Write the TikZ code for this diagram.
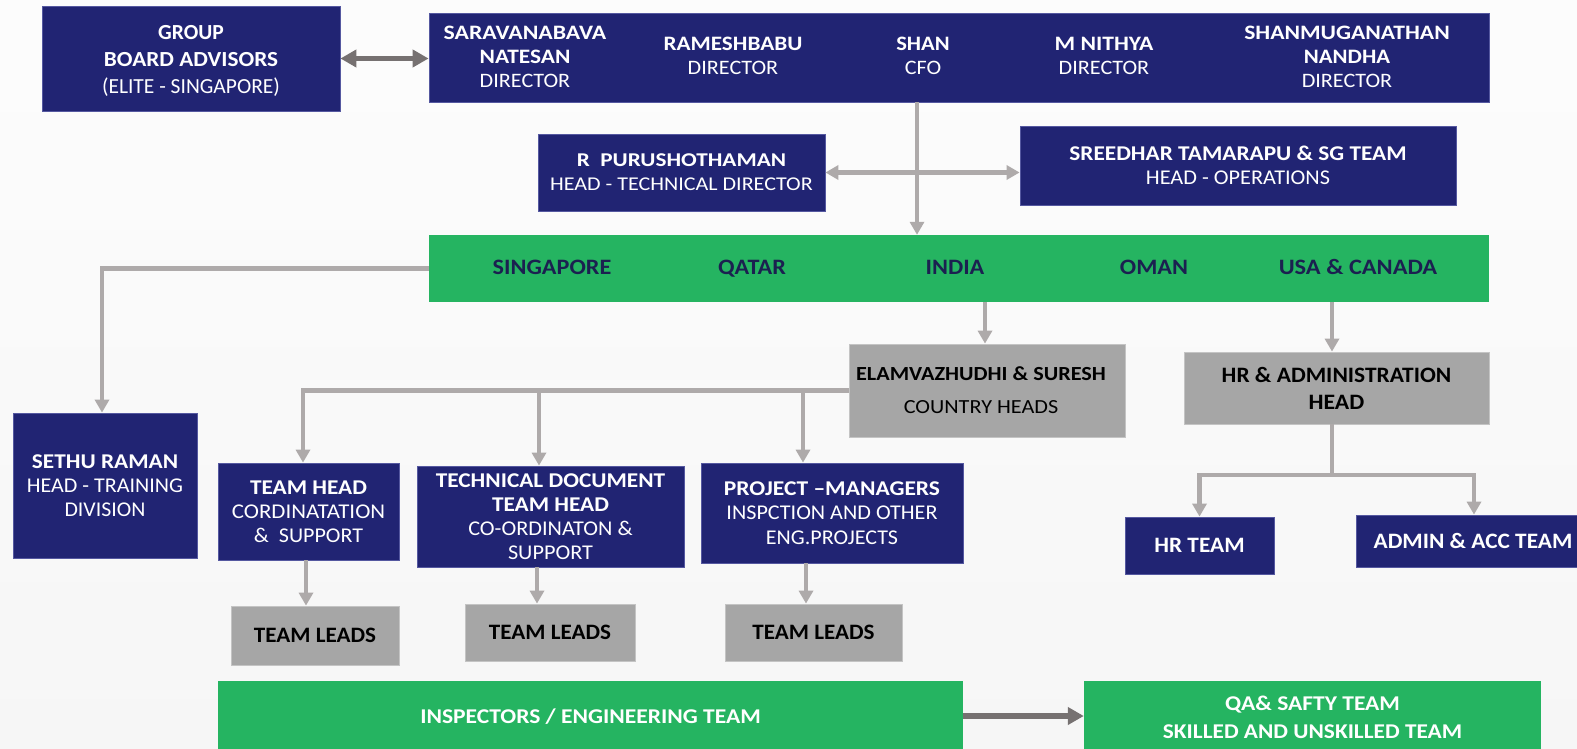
\documentclass[tikz,border=0pt]{standalone}
\usepackage{fontspec}
\usepackage{graphicx}
\setmainfont{Carlito}
\usetikzlibrary{arrows.meta,calc}
\definecolor{navy}{HTML}{212473}
\definecolor{navyedge}{HTML}{5558A0}
\definecolor{grn}{HTML}{25B461}
\definecolor{gbox}{HTML}{A6A6A6}
\definecolor{gedge}{HTML}{C4C4C4}
\definecolor{conn}{HTML}{AEAAAA}
\definecolor{dconn}{HTML}{767171}
\definecolor{ctytext}{HTML}{1B2050}
\newcommand{\fsz}[2]{\fontsize{#1pt}{#2pt}\selectfont}
\newcommand{\hs}[2]{\scalebox{#1}[1]{#2}}
\newcommand{\hb}[2]{\scalebox{#1}[1]{\bfseries #2}}
\tikzset{
  nbox/.style={draw=navyedge, line width=0.8pt, fill=navy, text=white, align=center, inner sep=0pt},
  gybox/.style={draw=gedge, line width=0.8pt, fill=gbox, text=black, align=center, inner sep=0pt},
  grbox/.style={fill=grn, text=white, align=center, inner sep=0pt},
  lbl/.style={align=center, inner sep=0pt, text=white},
  ctylbl/.style={inner sep=0pt, anchor=base, text=ctytext, font=\fsz{22}{26}\bfseries},
  cline/.style={draw=conn, line width=4.5pt},
  carrow/.style={cline, -{Triangle[width=14pt,length=13pt]}},
  cdarrow/.style={cline, {Triangle[width=14pt,length=13pt]}-{Triangle[width=14pt,length=13pt]}},
  dline/.style={draw=dconn, line width=5.5pt},
  darrow/.style={dline, -{Triangle[width=17pt,length=16pt]}},
  ddarrow/.style={dline, {Triangle[width=17pt,length=16pt]}-{Triangle[width=17pt,length=16pt]}},
}
\begin{document}
\begin{tikzpicture}[x=1pt,y=-1pt]
\useasboundingbox (0,0) rectangle (1577,749);
\shade[top color=white!98!gray, bottom color=white!93!gray] (0,0) rectangle (1577,749);

% top row
\node[nbox, minimum width=298pt, minimum height=105pt] (grp) at (191,58.5) {};
\node[lbl, font=\fsz{21.5}{27}] (grpt) at (191,60.5)
  {\hb{1.0}{GROUP}\\\hb{1.08}{BOARD ADVISORS}\\\hs{1.0}{(ELITE - SINGAPORE)}};
\node[nbox, minimum width=1060pt, minimum height=89pt] (dir) at (959,57.5) {};
\node[lbl, font=\fsz{20.5}{24}] (d1) at (525,56.5) {\hb{1.16}{SARAVANABAVA}\\\hb{1.14}{NATESAN}\\\hs{1.08}{DIRECTOR}};
\node[lbl, font=\fsz{20.5}{24}] (d2) at (733,56) {\hb{1.13}{RAMESHBABU}\\\hs{1.08}{DIRECTOR}};
\node[lbl, font=\fsz{20.5}{24}] (d3) at (923,56) {\hb{1.10}{SHAN}\\\hs{1.08}{CFO}};
\node[lbl, font=\fsz{20.5}{24}] (d4) at (1104,56) {\hb{1.15}{M NITHYA}\\\hs{1.08}{DIRECTOR}};
\node[lbl, font=\fsz{20.5}{24}] (d5) at (1347,56.5) {\hb{1.15}{SHANMUGANATHAN}\\\hb{1.11}{NANDHA}\\\hs{1.08}{DIRECTOR}};

\node[nbox, minimum width=287pt, minimum height=77pt, font=\fsz{19.5}{24}] (puru) at (681.5,172.5)
  {\hb{1.19}{R\ \ PURUSHOTHAMAN}\\\hs{1.13}{HEAD - TECHNICAL DIRECTOR}};
\node[nbox, minimum width=436pt, minimum height=79pt, font=\fsz{21}{24}] (sree) at (1238,165.5)
  {\hb{1.11}{SREEDHAR TAMARAPU \& SG TEAM}\\\hs{1.06}{HEAD - OPERATIONS}};

% countries
\node[grbox, minimum width=1060pt, minimum height=67pt] (cty) at (959,268.5) {};
\node[ctylbl] (c1) at (552,274.5) {\hs{1.10}{SINGAPORE}};
\node[ctylbl] (c2) at (752,274.5) {\hs{1.10}{QATAR}};
\node[ctylbl] (c3) at (955,274.5) {\hs{1.10}{INDIA}};
\node[ctylbl] (c4) at (1154,274.5) {\hs{1.10}{OMAN}};
\node[ctylbl] (c5) at (1358,274.5) {\hs{1.11}{USA \& CANADA}};

% middle
\node[nbox, minimum width=184pt, minimum height=145pt, font=\fsz{21}{24}] (sethu) at (105,485.5)
  {\hb{1.11}{SETHU RAMAN}\\\hs{1.05}{HEAD - TRAINING}\\\hs{1.04}{DIVISION}};
\node[gybox, minimum width=276pt, minimum height=93pt, font=\fsz{20}{33}] (elam) at (987,390.5) {};
\node[lbl, text=black, font=\fsz{20}{33}] (elamt) at (981,390)
  {\hb{1.11}{ELAMVAZHUDHI \& SURESH}\\\hs{1.11}{COUNTRY HEADS}};
\node[gybox, minimum width=305pt, minimum height=72pt, font=\fsz{22}{27}] (hrh) at (1336.5,388)
  {\hb{1.065}{HR \& ADMINISTRATION}\\\hb{1.08}{HEAD}};
\node[nbox, minimum width=149pt, minimum height=57pt, font=\fsz{22}{26}] (hrt) at (1199.5,545.5) {\hb{1.06}{HR TEAM}};
\node[nbox, minimum width=234pt, minimum height=52pt, font=\fsz{22}{26}] (adm) at (1473,541) {\hb{1.06}{ADMIN \& ACC TEAM}};

\node[nbox, minimum width=181pt, minimum height=97pt, font=\fsz{21}{24}] (th) at (308.5,511.5)
  {\hb{1.11}{TEAM HEAD}\\\hs{1.09}{CORDINATATION}\\\hs{1.05}{\&\ \ SUPPORT}};
\node[nbox, minimum width=267pt, minimum height=101pt, font=\fsz{21}{24}] (td) at (550.5,516.5)
  {\hb{1.11}{TECHNICAL DOCUMENT}\\\hb{1.11}{TEAM HEAD}\\\hs{1.06}{CO-ORDINATON \&}\\\hs{1.06}{SUPPORT}};
\node[nbox, minimum width=262pt, minimum height=100pt, font=\fsz{21}{24.5}] (pm) at (832,513)
  {\hb{1.12}{PROJECT –MANAGERS}\\\hs{1.055}{INSPCTION AND OTHER}\\\hs{1.05}{ENG.PROJECTS}};

\node[gybox, minimum width=168pt, minimum height=59pt, font=\fsz{22}{26}] (tl1) at (315,635.5) {\hb{1.05}{TEAM LEADS}};
\node[gybox, minimum width=170pt, minimum height=57pt, font=\fsz{22}{26}] (tl2) at (550,632.5) {\hb{1.05}{TEAM LEADS}};
\node[gybox, minimum width=177pt, minimum height=57pt, font=\fsz{22}{26}] (tl3) at (813.5,632.5) {\hb{1.05}{TEAM LEADS}};

% bottom
\node[grbox, minimum width=745pt, minimum height=72pt, font=\fsz{21}{26}] (insp) at (590.5,717) {\hb{1.12}{INSPECTORS / ENGINEERING TEAM}};
\node[grbox, minimum width=457pt, minimum height=72pt, font=\fsz{21}{28}] (qa) at (1312.5,717) {\hb{1.12}{QA\& SAFTY TEAM}\\\hb{1.11}{SKILLED AND UNSKILLED TEAM}};

% coordinates for connector columns
\coordinate (xv) at (917,0);
\coordinate (xs) at (102,0);
\coordinate (xe) at (985,0);
\coordinate (xu) at (1332,0);
\coordinate (xth) at (303,0);
\coordinate (xtd) at (539,0);
\coordinate (xpm) at (803,0);
\coordinate (hj) at (1332,475);
\coordinate (xad) at (1474,0);
\coordinate (x1) at (306,0);
\coordinate (x2) at (537,0);
\coordinate (x3) at (806,0);

% connectors
\draw[ddarrow] (grp.east) -- (grp.east -| dir.west);
\draw[carrow] (xv |- dir.south) -- (xv |- cty.north);
\draw[cdarrow] (puru.east) -- (puru.east -| sree.west);
\draw[carrow] (cty.west) -| (xs |- sethu.north);
\draw[carrow] (xe |- cty.south) -- (xe |- elam.north);
\draw[carrow] (xu |- cty.south) -- (xu |- hrh.north);
\draw[cline] (xu |- hrh.south) -- (hj);
\draw[carrow] (hj) -| (hrt.north);
\draw[carrow] (hj) -| (xad |- adm.north);
\draw[carrow] (elam.west) -| (xth |- th.north);
\draw[carrow] (xtd |- elam.west) -- (xtd |- td.north);
\draw[carrow] (xpm |- elam.west) -- (xpm |- pm.north);
\draw[carrow] (x1 |- th.south) -- (x1 |- tl1.north);
\draw[carrow] (x2 |- td.south) -- (x2 |- tl2.north);
\draw[carrow] (x3 |- pm.south) -- (x3 |- tl3.north);
\draw[darrow] (insp.east |- 0,716) -- (qa.west |- 0,716);
\end{tikzpicture}
\end{document}
